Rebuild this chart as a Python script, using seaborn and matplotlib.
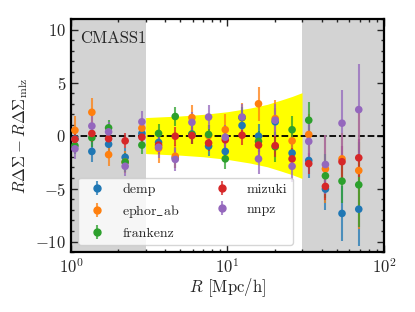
import matplotlib
matplotlib.use("Agg")
import matplotlib.pyplot as plt
import matplotlib.ticker as mticker
from matplotlib.colors import to_rgba
from matplotlib.lines import Line2D
import numpy as np
import pandas as pd
import seaborn as sns

# radial bins [Mpc/h]
radius = [1.06, 1.36, 1.74, 2.22, 2.84, 3.63, 4.64, 5.93, 7.58,
          9.69, 12.4, 15.8, 20.2, 25.9, 33.1, 42.3, 54.0, 69.1]

codes = ["demp", "ephor_ab", "frankenz", "mizuki", "nnpz"]
labels = ["demp", r"ephor$\_$ab", "frankenz", "mizuki", "nnpz"]
colors = ["#1f77b4", "#ff7f0e", "#2ca02c", "#d62728", "#9467bd"]

demp = [-0.3, -1.5, -0.82, -2.05, 0.2, -0.65, -2.1, 0.15, -1.0,
        -1.5, 0.95, -0.05, 1.3, -1.65, -2.35, -5.05, -7.35, -6.95]
demp_err = [0.8, 0.95, 0.8, 0.9, 0.8, 0.8, 1.0, 0.9, 0.9,
            1.0, 1.0, 1.1, 1.3, 1.2, 1.7, 2.0, 2.6, 3.5]

ephor_ab = [0.5, 2.2, -1.8, -2.5, 0.7, -1.2, -1.95, 1.7, 0.0,
            0.55, 1.7, 3.0, 1.6, -0.5, 0.1, -3.15, -2.2, -3.3]
ephor_ab_err = [1.3, 1.3, 1.1, 1.0, 0.9, 1.4, 1.1, 1.2, 1.0,
                1.5, 1.4, 1.6, 1.8, 1.4, 1.9, 3.2, 2.4, 5.5]

frankenz = [-0.95, -0.2, 0.73, -2.5, -0.9, 0.2, 1.8, 0.1, 0.1,
            -2.2, 1.7, -0.55, -1.05, 0.55, 1.45, -3.8, -4.3, -4.65]
frankenz_err = [0.8, 0.9, 0.7, 0.9, 0.8, 0.9, 0.9, 0.9, 0.9,
                1.0, 1.0, 1.0, 1.4, 1.3, 1.7, 2.1, 2.1, 4.0]

mizuki = [-0.35, 0.2, -0.3, -0.5, -0.15, -0.9, -0.06, 0.0, -0.7,
          -0.4, 0.03, -0.9, -0.95, -2.2, -2.65, -4.8, -2.47, -2.1]
mizuki_err = [0.8, 0.8, 0.8, 0.7, 0.8, 0.8, 0.9, 0.8, 0.8,
              0.9, 0.9, 1.0, 1.1, 1.0, 1.0, 1.3, 1.5, 1.8]

nnpz = [-1.25, 0.9, 0.35, -2.9, 1.3, -1.1, -2.25, 1.25, 1.75,
        -0.15, 1.75, -2.2, 1.45, -2.9, -0.55, -2.73, 1.17, 2.45]
nnpz_err = [1.0, 1.0, 0.9, 0.9, 1.0, 1.0, 1.1, 1.0, 1.1,
            1.1, 1.2, 1.4, 1.5, 1.5, 1.7, 2.8, 3.1, 4.3]

# fiducial error band inside the fitting range
band_r = [3.0, 5.0, 7.0, 10.0, 14.0, 18.0, 22.0, 26.0, 30.0]
band_half = [1.7, 1.85, 2.0, 2.25, 2.6, 2.95, 3.35, 3.7, 4.05]

values = {"demp": (demp, demp_err), "ephor_ab": (ephor_ab, ephor_ab_err),
          "frankenz": (frankenz, frankenz_err), "mizuki": (mizuki, mizuki_err),
          "nnpz": (nnpz, nnpz_err)}

frames = []
for code in codes:
    frames.append(pd.DataFrame({"R": radius, "diff": values[code][0],
                                "err": values[code][1], "code": code}))
df = pd.concat(frames, ignore_index=True)

sns.set_style("ticks")
plt.rcParams["font.family"] = "serif"
plt.rcParams["font.serif"] = ["cmr10", "DejaVu Serif"]
plt.rcParams["mathtext.fontset"] = "cm"
plt.rcParams["axes.formatter.use_mathtext"] = True
plt.rcParams["axes.unicode_minus"] = True

fig = plt.figure(figsize=(4.15, 3.12), dpi=100)
ax = fig.add_axes([0.171, 0.192, 0.754, 0.747])

ax.axvspan(0.5, 3, color="lightgray", lw=0, zorder=0)
ax.axvspan(30, 200, color="lightgray", lw=0, zorder=0)
ax.fill_between(band_r, -np.array(band_half), band_half, color="yellow",
                lw=0, zorder=1)
ax.axhline(0, color="black", ls="--", lw=1.3, zorder=2)

handles = []
for code, lab, c in zip(codes, labels, colors):
    vals, errs = values[code]
    eb = ax.errorbar(radius, vals, yerr=errs, fmt="none",
                     ecolor=to_rgba(c, 0.75), elinewidth=1.5, zorder=3)
    mk = Line2D([], [], marker="o", ls="", color=c, ms=5)
    handles.append(((eb, mk), lab))

sns.scatterplot(data=df, x="R", y="diff", hue="code", hue_order=codes,
                palette=colors, s=30, linewidth=0, legend=False, zorder=4,
                ax=ax)

ax.set_xscale("log")
ax.set_xlim(1, 100)
ax.set_ylim(-11, 11)
ax.yaxis.set_major_locator(mticker.MultipleLocator(5))
ax.yaxis.set_minor_locator(mticker.MultipleLocator(1))
ax.tick_params(which="both", direction="in", top=True, right=True,
               labelsize=12, width=1)
ax.tick_params(which="major", length=5)
ax.tick_params(which="minor", length=2.5)
for sp in ax.spines.values():
    sp.set_linewidth(1.6)
    sp.set_color("black")

ax.set_xlabel(r"$R$ [Mpc/h]", fontsize=12, labelpad=0)
ax.set_ylabel(r"$R\Delta\Sigma - R\Delta\Sigma_{\rm mlz}$", fontsize=12)
ax.text(0.03, 0.95, "CMASS1", transform=ax.transAxes, ha="left", va="top",
        fontsize=12, zorder=5)

leg = ax.legend([h for h, _ in handles], [l for _, l in handles],
                loc="lower left", ncol=2, fontsize=10)
leg.set_zorder(6)

fig.savefig("out.png", dpi=100)
